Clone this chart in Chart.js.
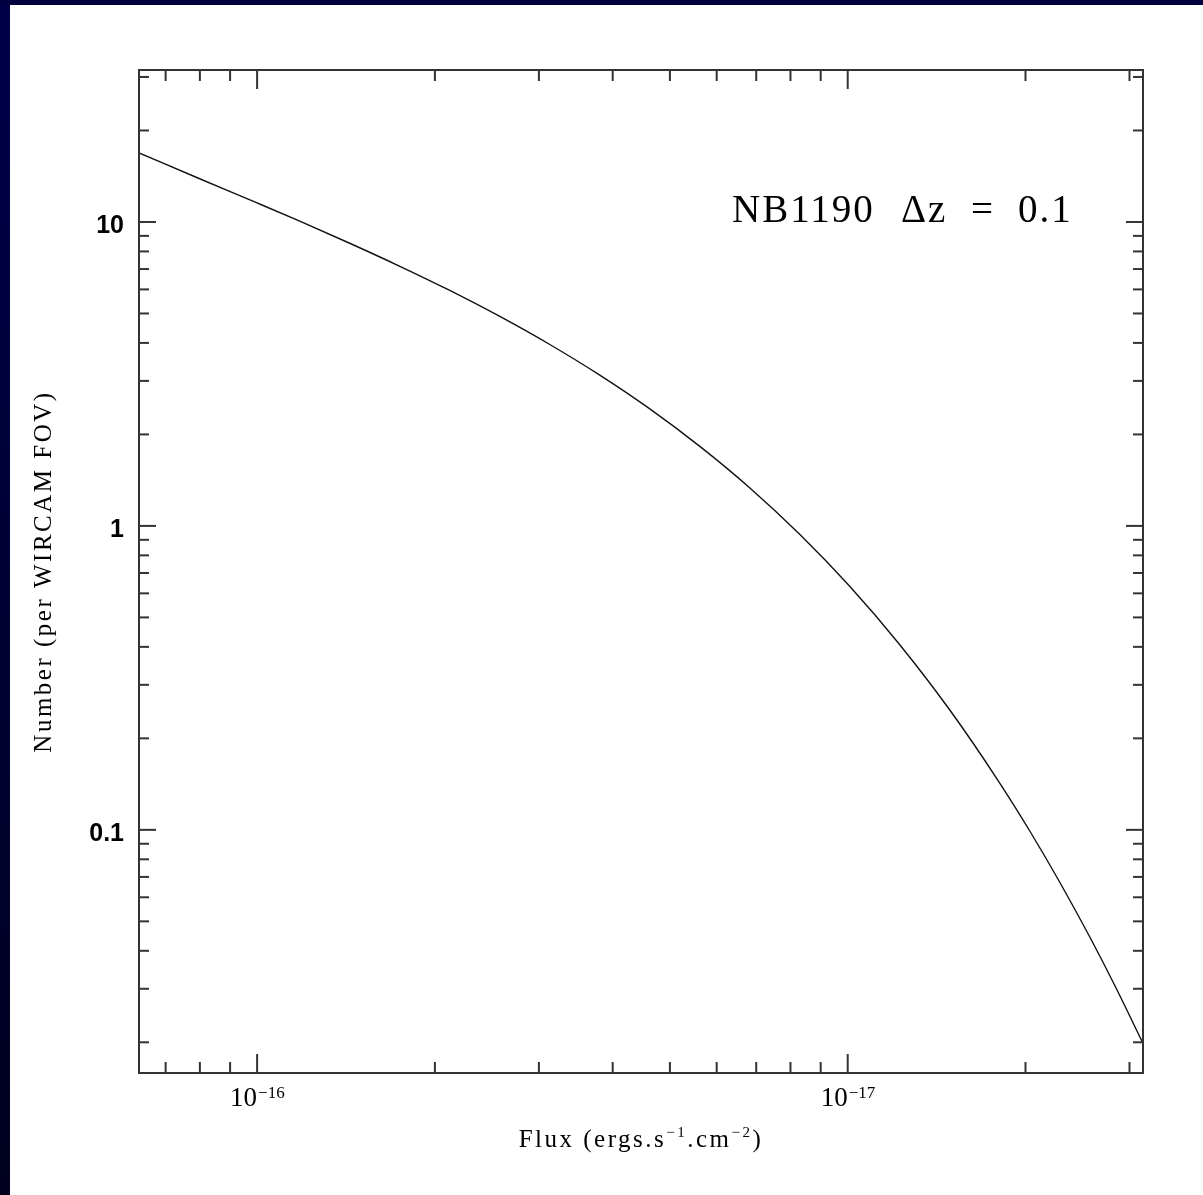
<!DOCTYPE html>
<html>
<head>
<meta charset="utf-8">
<style>
  html, body { margin: 0; padding: 0; background: #fff; }
  #wrap { width: 1203px; height: 1195px; }
</style>
</head>
<body>
<div id="wrap"><canvas id="myChart" width="1203" height="1195"></canvas></div>
<script src="https://cdn.jsdelivr.net/npm/chart.js@4.4.0/dist/chart.umd.min.js"></script>
<script>
// flux (ergs/s/cm^2) and number per WIRCAM field
var flux = [1.585e-16, 1.254e-16, 1.0e-16, 8.487e-17, 6.985e-17, 5.744e-17, 4.727e-17, 3.889e-17,
            3.200e-17, 2.633e-17, 2.166e-17, 1.782e-17, 1.466e-17, 1.206e-17, 9.922e-18, 8.163e-18,
            6.716e-18, 5.525e-18, 4.914e-18, 4.372e-18, 3.889e-18, 3.528e-18, 3.163e-18];
var number = [16.88, 13.90, 11.55, 10.08, 8.527, 7.161, 5.963, 4.897,
              3.960, 3.140, 2.431, 1.830, 1.336, 0.939, 0.6329, 0.4066,
              0.2479, 0.1423, 0.09894, 0.0671, 0.04431, 0.03069, 0.01986];

// axis ticks (x minor ticks sit at 1/(k*10^n))
var xMajor = [1e-16, 1e-17];
var xMajorExp = ['\u221216', '\u221217'];
var xMinorInv = [7e15, 8e15, 9e15, 2e16, 3e16, 4e16, 5e16, 6e16, 7e16, 8e16, 9e16, 2e17, 3e17];
var yMajor = [10, 1, 0.1];
var yMajorText = ['10', '1', '0.1'];
var yMinor = [30, 20, 9, 8, 7, 6, 5, 4, 3, 2, 0.9, 0.8, 0.7, 0.6, 0.5, 0.4, 0.3, 0.2,
              0.09, 0.08, 0.07, 0.06, 0.05, 0.04, 0.03, 0.02];

var label = ['NB1190', '\u0394z', '=', '0.1'];

var serif = '"Liberation Serif", "Times New Roman", serif';

function line(ctx, x1, y1, x2, y2) {
  ctx.beginPath();
  ctx.moveTo(x1, y1);
  ctx.lineTo(x2, y2);
  ctx.stroke();
}

var framePlugin = {
  id: 'frame',
  beforeDraw: function(chart) {
    var ctx = chart.ctx;
    ctx.save();
    ctx.fillStyle = '#fff';
    ctx.fillRect(0, 0, chart.width, chart.height);
    var g = ctx.createLinearGradient(0, 0, 0, chart.height);
    g.addColorStop(0, '#00004a');
    g.addColorStop(1, '#00001e');
    ctx.fillStyle = g;
    ctx.fillRect(0, 0, 10, chart.height);
    ctx.fillStyle = '#00003f';
    ctx.fillRect(0, 0, chart.width, 5);
    ctx.restore();
  },
  afterDraw: function(chart) {
    var ctx = chart.ctx, a = chart.chartArea;
    var xs = chart.scales.x, ys = chart.scales.y;
    ctx.save();
    ctx.strokeStyle = '#333';
    ctx.lineWidth = 2;
    ctx.strokeRect(a.left, a.top, a.right - a.left, a.bottom - a.top);

    // x ticks, top and bottom, pointing in
    xMajor.forEach(function(v) {
      var px = xs.getPixelForValue(v);
      line(ctx, px, a.bottom, px, a.bottom - 19);
      line(ctx, px, a.top, px, a.top + 19);
    });
    xMinorInv.forEach(function(k) {
      var px = xs.getPixelForValue(1 / k);
      line(ctx, px, a.bottom, px, a.bottom - 11);
      line(ctx, px, a.top, px, a.top + 11);
    });
    // y ticks, left and right
    yMajor.forEach(function(v) {
      var py = ys.getPixelForValue(v);
      line(ctx, a.left, py, a.left + 17, py);
      line(ctx, a.right, py, a.right - 17, py);
    });
    yMinor.forEach(function(v) {
      var py = ys.getPixelForValue(v);
      line(ctx, a.left, py, a.left + 10, py);
      line(ctx, a.right, py, a.right - 10, py);
    });

    ctx.fillStyle = '#000';
    // y tick labels
    ctx.font = 'bold 25px "Liberation Sans", Arial, sans-serif';
    ctx.textAlign = 'right';
    ctx.textBaseline = 'middle';
    yMajor.forEach(function(v, i) {
      ctx.fillText(yMajorText[i], a.left - 15, ys.getPixelForValue(v) + 4);
    });

    // x tick labels 10^-n
    ctx.textBaseline = 'alphabetic';
    xMajor.forEach(function(v, i) {
      var px = xs.getPixelForValue(v);
      ctx.font = '27px ' + serif;
      ctx.textAlign = 'right';
      ctx.fillText('10', px, a.bottom + 33);
      ctx.font = '17px ' + serif;
      ctx.textAlign = 'left';
      ctx.fillText(xMajorExp[i], px + 1, a.bottom + 25);
    });

    // x axis title with superscripts
    ctx.letterSpacing = '2.5px';
    var parts = [['Flux (ergs.s', 0], ['\u22121', 1], ['.cm', 0], ['\u22122', 1], [')', 0]];
    var w = 0;
    parts.forEach(function(p) {
      ctx.font = (p[1] ? '15px ' : '25px ') + serif;
      p.push(ctx.measureText(p[0]).width);
      w += p[2];
    });
    var x = (a.left + a.right) / 2 - w / 2;
    ctx.textAlign = 'left';
    parts.forEach(function(p) {
      ctx.font = (p[1] ? '15px ' : '25px ') + serif;
      ctx.fillText(p[0], x, a.bottom + 74 - (p[1] ? 10 : 0));
      x += p[2];
    });

    // y axis title
    ctx.save();
    ctx.translate(44, (a.top + a.bottom) / 2);
    ctx.rotate(-Math.PI / 2);
    ctx.font = '25px ' + serif;
    ctx.textAlign = 'center';
    ctx.textBaseline = 'middle';
    ctx.fillText('Number (per WIRCAM FOV)', 0, 0);
    ctx.restore();

    // annotation
    ctx.letterSpacing = '2px';
    ctx.font = '39px ' + serif;
    ctx.textAlign = 'left';
    var lx = [732, 901, 971, 1018];
    label.forEach(function(t, i) {
      ctx.fillText(t, lx[i], 222);
    });
    ctx.restore();
  }
};

new Chart(document.getElementById('myChart'), {
  type: 'line',
  data: {
    datasets: [{
      data: flux.map(function(f, i) { return { x: f, y: number[i] }; }),
      borderColor: '#111',
      borderWidth: 1.4,
      pointRadius: 0,
      cubicInterpolationMode: 'monotone',
      fill: false
    }]
  },
  options: {
    responsive: false,
    animation: false,
    devicePixelRatio: 1,
    layout: { padding: { top: 70, right: 60, left: 0, bottom: 0 } },
    plugins: { legend: { display: false }, tooltip: { enabled: false } },
    scales: {
      x: {
        type: 'logarithmic',
        reverse: true,
        bounds: 'data',
        min: Math.pow(10, -17.5),
        max: Math.pow(10, -15.8),
        grid: { display: false },
        border: { display: false },
        ticks: { display: false },
        afterFit: function(s) { s.height = 122; }
      },
      y: {
        type: 'logarithmic',
        bounds: 'data',
        min: Math.pow(10, -1.8),
        max: Math.pow(10, 1.5),
        grid: { display: false },
        border: { display: false },
        ticks: { display: false },
        afterFit: function(s) { s.width = 139; }
      }
    }
  },
  plugins: [framePlugin]
});
</script>
</body>
</html>
